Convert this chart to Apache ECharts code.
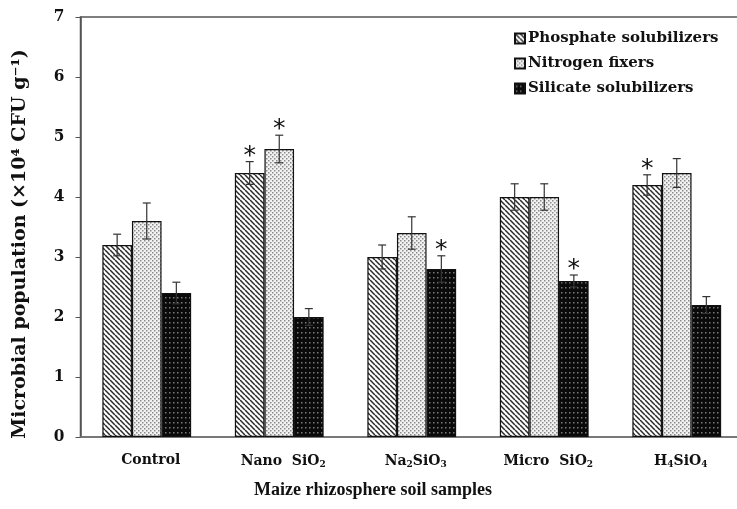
<!DOCTYPE html>
<html><head><meta charset="utf-8">
<script src="https://cdn.jsdelivr.net/npm/echarts@6/dist/echarts.min.js"></script>
<style>html,body{margin:0;padding:0;background:#fff;overflow:hidden}#c{width:745px;height:509px}</style>
</head><body><div id="c"></div>
<script>
const categories = ['Control', 'Nano SiO2', 'Na2SiO3', 'Micro SiO2', 'H4SiO4'];
const categoryLabels = ['Control', 'Nano  SiO{s|2}', 'Na{s|2}SiO{s|3}', 'Micro  SiO{s|2}', 'H{s|4}SiO{s|4}'];
const seriesNames = ['Phosphate solubilizers', 'Nitrogen fixers', 'Silicate solubilizers'];
const phosphate = [3.2, 4.4, 3.0, 4.0, 4.2];
const phosphateErr = [0.18, 0.19, 0.2, 0.22, 0.17];
const phosphateSig = [0, 1, 0, 0, 1];
const nitrogen = [3.6, 4.8, 3.4, 4.0, 4.4];
const nitrogenErr = [0.3, 0.23, 0.27, 0.22, 0.24];
const nitrogenSig = [0, 1, 0, 0, 0];
const silicate = [2.4, 2.0, 2.8, 2.6, 2.2];
const silicateErr = [0.18, 0.14, 0.22, 0.1, 0.14];
const silicateSig = [0, 0, 1, 1, 0];
const yMin = 0, yMax = 7, yStep = 1;
const yAxisTitle = 'Microbial population (×10⁴ CFU g⁻¹)';
const xAxisTitle = 'Maize rhizosphere soil samples';

const serifC = "'DejaVu Serif Condensed', 'DejaVu Serif', serif";
const serif = "'DejaVu Serif', serif";

function makePattern(kind) {
  const c = document.createElement('canvas');
  const ctx = c.getContext('2d');
  if (kind === 'hatch') {
    c.width = 5; c.height = 5;
    ctx.fillStyle = '#fff'; ctx.fillRect(0, 0, 5, 5);
    ctx.strokeStyle = '#2a2a2a'; ctx.lineWidth = 1.5;
    for (const o of [-5, 0, 5]) {
      ctx.beginPath(); ctx.moveTo(o, 0); ctx.lineTo(o + 5, 5); ctx.stroke();
    }
  } else if (kind === 'dots') {
    c.width = 4; c.height = 4;
    ctx.fillStyle = '#f2f2f2'; ctx.fillRect(0, 0, 4, 4);
    ctx.fillStyle = '#8a8a8a';
    ctx.fillRect(0, 0, 1.5, 1.5); ctx.fillRect(2, 2, 1.5, 1.5);
  } else {
    c.width = 4; c.height = 5;
    ctx.fillStyle = '#0a0a0a'; ctx.fillRect(0, 0, 4, 5);
    ctx.fillStyle = '#7a7a7a';
    ctx.fillRect(1, 2, 1.5, 1.5);
  }
  return { image: c, repeat: 'repeat' };
}
const fills = [makePattern('hatch'), makePattern('dots'), makePattern('dark')];
const values = [phosphate, nitrogen, silicate];
const errs = [phosphateErr, nitrogenErr, silicateErr];
const sigs = [phosphateSig, nitrogenSig, silicateSig];
const gapRatio = 0.33;

const chart = echarts.init(document.getElementById('c'));
const series = [];
seriesNames.forEach((name, k) => {
  series.push({
    name, type: 'bar', data: values[k], barGap: '0%', barCategoryGap: '33%',
    itemStyle: { color: fills[k], borderColor: '#111', borderWidth: 1.2 },
    z: 2
  });
});
seriesNames.forEach((name, k) => {
  series.push({
    name: name + ' err', type: 'custom', z: 5,
    data: values[k].map((v, i) => [i, v, errs[k][i], sigs[k][i]]),
    encode: { x: 0, y: 1 },
    renderItem: function (params, api) {
      const i = api.value(0), v = api.value(1), e = api.value(2), s = api.value(3);
      const c = api.coord([i, v]);
      const bandW = api.size([1, 0])[0];
      const barW = bandW * (1 - gapRatio) / 3;
      const x = c[0] + (k - 1) * barW;
      const top = api.coord([i, v + e])[1];
      const bot = api.coord([i, v - e])[1];
      const st = { stroke: '#333', lineWidth: 1.2 };
      const children = [
        { type: 'line', shape: { x1: x, y1: top, x2: x, y2: bot }, style: st },
        { type: 'line', shape: { x1: x - 4, y1: top, x2: x + 4, y2: top }, style: st },
        { type: 'line', shape: { x1: x - 4, y1: bot, x2: x + 4, y2: bot }, style: st }
      ];
      if (s) {
        children.push({ type: 'text', style: { text: '*', x: x, y: top + 7, textAlign: 'center', textVerticalAlign: 'bottom', fontFamily: 'DejaVu Sans', fontSize: 25, fill: '#111' } });
      }
      return { type: 'group', children };
    }
  });
});

chart.setOption({
  animation: false,
  grid: { left: 80.5, top: 17, right: 2, height: 420, show: true, borderColor: '#555', borderWidth: 1.5 },
  legend: {
    data: seriesNames, orient: 'vertical', left: 509, top: 26, itemWidth: 10, itemHeight: 10, itemGap: 10,
    icon: 'rect',
    textStyle: { fontFamily: serif, fontWeight: 'bold', fontSize: 15, color: '#111', padding: [0, 0, 0, -2] }
  },
  xAxis: {
    type: 'category', data: categories,
    axisLine: { lineStyle: { color: '#777', width: 1.5 } }, axisTick: { show: false },
    axisLabel: {
      margin: 16, interval: 0, padding: [0, 0, 0, 8],
      formatter: (val, idx) => categoryLabels[idx],
      fontFamily: serif, fontWeight: 'bold', fontSize: 14, color: '#111',
      rich: { s: { fontFamily: serif, fontWeight: 'bold', fontSize: 9, verticalAlign: 'bottom', padding: [7, 0, 0, 0], color: '#111' } }
    }
  },
  yAxis: {
    type: 'value', min: yMin, max: yMax, interval: yStep,
    splitLine: { show: false },
    axisLine: { show: true, lineStyle: { color: '#555', width: 1.5 } },
    axisTick: { show: true, length: 5, lineStyle: { color: '#555' } },
    axisLabel: { margin: 16, fontFamily: serifC, fontWeight: 'bold', fontSize: 17, color: '#111' }
  },
  graphic: [{
    type: 'text', x: 20, y: 244, rotation: Math.PI / 2,
    style: { text: yAxisTitle, fontFamily: serif, fontWeight: 'bold', fontSize: 19, fill: '#111', textAlign: 'center', textVerticalAlign: 'middle' }
  }, {
    type: 'text', x: 373, y: 490,
    style: { text: xAxisTitle, fontFamily: "'Liberation Serif', serif", fontWeight: 'bold', fontSize: 18, fill: '#111', textAlign: 'center', textVerticalAlign: 'middle' }
  }],
  series
});
</script></body></html>
